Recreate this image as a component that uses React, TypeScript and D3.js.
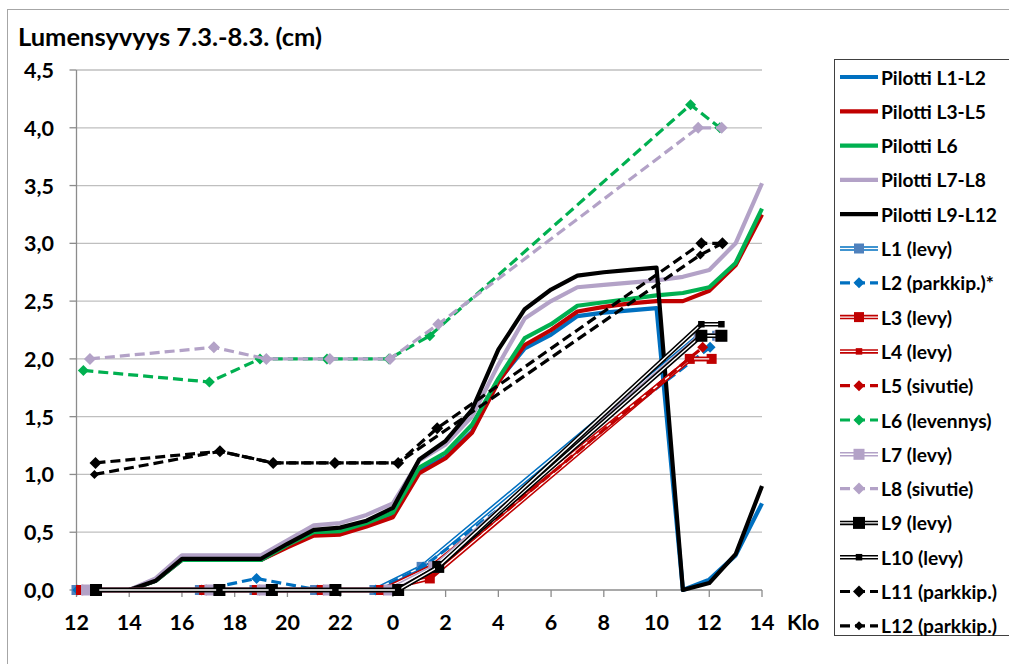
import React from 'react';
import * as d3 from 'd3';

// ---------- DATA ----------
// hours since 12:00 on 7.3.
const hours = [0,1,2,3,4,5,6,7,8,9,10,11,12,13,14,15,16,17,18,19,20,21,22,23,24,25,26];
const pilottiL1L2 = [0,0,0,0.08,0.26,0.26,0.26,0.26,0.38,0.48,0.5,0.57,0.65,1.03,1.15,1.37,1.81,2.09,2.21,2.37,2.4,2.42,2.44,0,0.09,0.3,0.75];
const pilottiL3L5 = [0,0,0,0.08,0.26,0.26,0.26,0.26,0.37,0.47,0.48,0.55,0.63,1.01,1.14,1.36,1.8,2.12,2.25,2.41,2.45,2.48,2.5,2.5,2.59,2.81,3.25];
const pilottiL6 = [0,0,0,0.08,0.26,0.26,0.26,0.26,0.39,0.5,0.51,0.58,0.67,1.06,1.19,1.43,1.83,2.18,2.3,2.46,2.49,2.52,2.55,2.57,2.62,2.83,3.3];
const pilottiL7L8 = [0,0,0,0.1,0.3,0.3,0.3,0.3,0.43,0.56,0.58,0.65,0.75,1.12,1.26,1.5,1.95,2.35,2.5,2.62,2.64,2.66,2.68,2.71,2.77,3.0,3.52];
const pilottiL9L12 = [0,0,0,0.08,0.27,0.27,0.27,0.27,0.4,0.52,0.54,0.6,0.71,1.13,1.29,1.56,2.08,2.43,2.6,2.72,2.75,2.77,2.79,0,0.06,0.31,0.9];

const l1Times = [0.0,4.68,6.75,9.05,11.3,13.09,23.6,24.3];
const l1Values = [0,0,0,0,0,0.2,2.2,2.2];
const l2Times = [0.05,4.75,6.83,9.15,11.35,13.15,24.03];
const l2Values = [0,0,0.1,0,0,0.2,2.1];
const l3Times = [0.17,4.84,6.84,9.3,11.55,13.4,23.26,24.09];
const l3Values = [0,0,0,0,0,0.1,2.0,2.0];
const l4Times = [0.2,4.88,6.9,9.33,11.6,13.45,23.3,24.12];
const l4Values = [0,0,0,0,0,0.2,2.0,2.0];
const l5Times = [0.24,4.92,6.95,9.38,11.65,13.5,23.75];
const l5Values = [0,0,0,0,0,0.15,2.1];
const l6Times = [0.26,5.04,6.96,9.5,11.85,13.4,23.29,24.4];
const l6Values = [1.9,1.8,2.0,2.0,2.0,2.2,4.2,4.0];
const l7Times = [0.38,5.06,7.05,9.55,11.85,13.55,23.65,24.4];
const l7Values = [0,0,0,0,0,0.2,2.2,2.2];
const l8Times = [0.51,5.21,7.2,9.61,11.89,13.72,23.58,24.47];
const l8Values = [2.0,2.1,2.0,2.0,2.0,2.3,4.0,4.0];
const l9Times = [0.74,5.42,7.41,9.82,12.2,13.72,23.7,24.46];
const l9Values = [0,0,0,0,0,0.2,2.2,2.2];
const l10Times = [0.74,5.42,7.41,9.82,12.2,13.72,23.7,24.46];
const l10Values = [0,0,0,0,0,0.2,2.3,2.3];
const l11Times = [0.72,5.44,7.46,9.8,12.2,13.68,23.7,24.5];
const l11Values = [1.1,1.2,1.1,1.1,1.1,1.4,3.0,3.0];
const l12Times = [0.68,5.44,7.46,9.8,12.2,23.66,24.5];
const l12Values = [1.0,1.2,1.1,1.1,1.1,2.9,3.0];

const xTickValues = [0,2,4,6,8,10,12,14,16,18,20,22,24,26];
const xTickLabels = ['12','14','16','18','20','22','0','2','4','6','8','10','12','14'];
const yTickValues = [0,0.5,1,1.5,2,2.5,3,3.5,4,4.5];
const yTickLabels = ['0,0','0,5','1,0','1,5','2,0','2,5','3,0','3,5','4,0','4,5'];

const title = 'Lumensyvyys 7.3.-8.3. (cm)';

// ---------- STYLES ----------
const BLUE = '#0070C0', RED = '#C00000', GREEN = '#00B050', LAV = '#B3A2C7', BLACK = '#000000';

type Kind = 'solid' | 'double' | 'dashed';
interface Series { name: string; t: number[]; v: number[]; color: string; kind: Kind; marker?: 'square' | 'diamond'; msize?: number; mcolor?: string; }

const series: Series[] = [
  { name: 'Pilotti L1-L2', t: hours, v: pilottiL1L2, color: BLUE, kind: 'solid' },
  { name: 'Pilotti L3-L5', t: hours, v: pilottiL3L5, color: RED, kind: 'solid' },
  { name: 'Pilotti L6', t: hours, v: pilottiL6, color: GREEN, kind: 'solid' },
  { name: 'Pilotti L7-L8', t: hours, v: pilottiL7L8, color: LAV, kind: 'solid' },
  { name: 'Pilotti L9-L12', t: hours, v: pilottiL9L12, color: BLACK, kind: 'solid' },
  { name: 'L1 (levy)', t: l1Times, v: l1Values, color: BLUE, kind: 'double', marker: 'square', msize: 10, mcolor: '#4F81BD' },
  { name: 'L2 (parkkip.)*', t: l2Times, v: l2Values, color: BLUE, kind: 'dashed', marker: 'diamond', msize: 5.5 },
  { name: 'L3 (levy)', t: l3Times, v: l3Values, color: RED, kind: 'double', marker: 'square', msize: 10 },
  { name: 'L4 (levy)', t: l4Times, v: l4Values, color: RED, kind: 'double', marker: 'square', msize: 6.5 },
  { name: 'L5 (sivutie)', t: l5Times, v: l5Values, color: RED, kind: 'dashed', marker: 'diamond', msize: 5.5 },
  { name: 'L6 (levennys)', t: l6Times, v: l6Values, color: GREEN, kind: 'dashed', marker: 'diamond', msize: 5.5 },
  { name: 'L7 (levy)', t: l7Times, v: l7Values, color: LAV, kind: 'double', marker: 'square', msize: 11 },
  { name: 'L8 (sivutie)', t: l8Times, v: l8Values, color: LAV, kind: 'dashed', marker: 'diamond', msize: 6 },
  { name: 'L9 (levy)', t: l9Times, v: l9Values, color: BLACK, kind: 'double', marker: 'square', msize: 12 },
  { name: 'L10 (levy)', t: l10Times, v: l10Values, color: BLACK, kind: 'double', marker: 'square', msize: 6.5 },
  { name: 'L11 (parkkip.)', t: l11Times, v: l11Values, color: BLACK, kind: 'dashed', marker: 'diamond', msize: 6 },
  { name: 'L12 (parkkip.)', t: l12Times, v: l12Values, color: BLACK, kind: 'dashed', marker: 'diamond', msize: 4.5 },
];

const FONT = 'Lato, "Open Sans", sans-serif';

function Marker({ x, y, s }: { x: number; y: number; s: Series }) {
  const c = s.mcolor || s.color;
  const r = s.msize || 5;
  if (s.marker === 'square') {
    return <rect x={x - r / 2} y={y - r / 2} width={r} height={r} fill={c} />;
  }
  return <path d={`M${x},${y - r}L${x + r},${y}L${x},${y + r}L${x - r},${y}Z`} fill={c} />;
}

function SeriesLine({ s, d }: { s: Series; d: string }) {
  if (s.kind === 'solid') return <path d={d} fill="none" stroke={s.color} strokeWidth={4.2} strokeLinejoin="round" />;
  if (s.kind === 'double') return (
    <g>
      <path d={d} fill="none" stroke={s.color} strokeWidth={4.5} />
      <path d={d} fill="none" stroke="#fff" strokeWidth={1.4} />
    </g>
  );
  return <path d={d} fill="none" stroke={s.color} strokeWidth={3.2} strokeDasharray="10 5" />;
}

export default function App() {
  const W = 1009, H = 664;
  const x = d3.scaleLinear().domain([0, 26]).range([76.5, 762]);
  const y = d3.scaleLinear().domain([0, 4.5]).range([590, 70]);
  const line = d3.line<[number, number]>().x(p => x(p[0])).y(p => y(p[1]));

  const legX = 840, legY0 = 77, legDy = 34.3;

  return (
    <svg width={W} height={H} style={{ position: 'absolute', left: 0, top: 0, background: '#fff' }} fontFamily={FONT}>
      <rect x={0} y={0} width={W} height={H} fill="#fff" />
      <rect x={7.5} y={9.5} width={1020} height={680} fill="none" stroke="#A6A6A6" strokeWidth={1} />
      <text x={18} y={46} fontSize={25.5} fontWeight="bold" fill="#000">{title}</text>

      {/* gridlines */}
      {yTickValues.map((v, i) => (
        <g key={'g' + i}>
          {v > 0 && <line x1={x(0)} x2={x(26)} y1={y(v)} y2={y(v)} stroke="#BFBFBF" strokeWidth={1.3} />}
          <line x1={x(0) - 7} x2={x(0)} y1={y(v)} y2={y(v)} stroke="#8C8C8C" strokeWidth={1.3} />
          <text x={54} y={y(v)} fontSize={21.5} fontWeight="bold" textAnchor="end" dominantBaseline="central">{yTickLabels[i]}</text>
        </g>
      ))}
      <line x1={x(0)} x2={x(0)} y1={y(4.5)} y2={y(0)} stroke="#8C8C8C" strokeWidth={1.3} />
      <line x1={x(0)} x2={x(26)} y1={y(0)} y2={y(0)} stroke="#8C8C8C" strokeWidth={1.3} />
      {xTickValues.map((t, i) => (
        <g key={'x' + i}>
          <line x1={x(t)} x2={x(t)} y1={y(0)} y2={y(0) + 7} stroke="#8C8C8C" strokeWidth={1.3} />
          <text x={x(t)} y={622} fontSize={21.5} fontWeight="bold" textAnchor="middle" dominantBaseline="central">{xTickLabels[i]}</text>
        </g>
      ))}
      <text x={787} y={622} fontSize={21.5} fontWeight="bold" dominantBaseline="central">Klo</text>

      {/* series */}
      {series.map((s, i) => {
        const pts = s.t.map((t, j) => [t, s.v[j]] as [number, number]);
        return (
          <g key={'s' + i}>
            <SeriesLine s={s} d={line(pts) || ''} />
            {s.marker && pts.map((p, j) => <Marker key={j} x={x(p[0])} y={y(p[1])} s={s} />)}
          </g>
        );
      })}

      {/* legend */}
      <rect x={834.5} y={59.5} width={200} height={576} fill="#fff" stroke="#404040" strokeWidth={1} />
      {series.map((s, i) => {
        const ly = legY0 + i * legDy;
        const d = `M${legX},${ly}L${legX + 38},${ly}`;
        return (
          <g key={'l' + i}>
            <SeriesLine s={s} d={d} />
            {s.marker && <Marker x={legX + 19} y={ly} s={s} />}
            <text x={881} y={ly} fontSize={19.2} fontWeight="bold" dominantBaseline="central">{s.name}</text>
          </g>
        );
      })}
    </svg>
  );
}
